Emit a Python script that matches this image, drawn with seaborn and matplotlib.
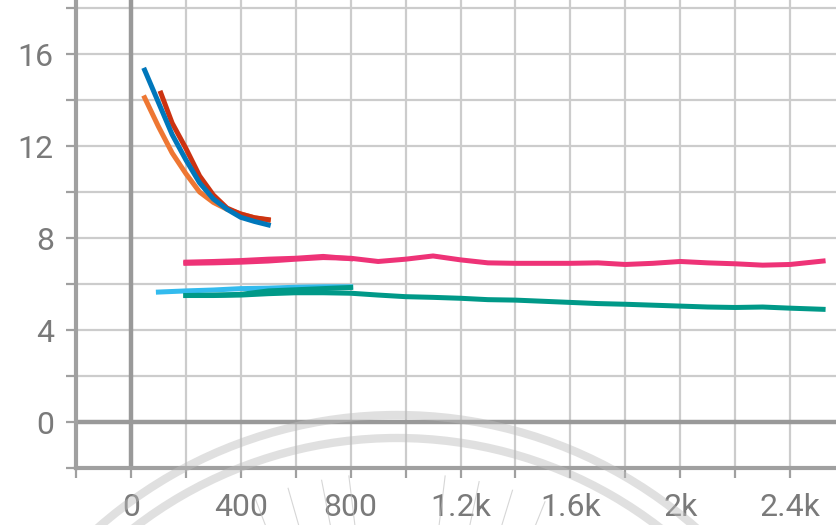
import numpy as np
import pandas as pd
import seaborn as sns
import matplotlib.pyplot as plt
from matplotlib.patches import Arc

# values
blue_x = [50, 100, 150, 200, 250, 300, 350, 400, 450, 500]
blue_y = [15.3, 13.9, 12.5, 11.4, 10.4, 9.7, 9.25, 8.9, 8.72, 8.57]

orange_x = [50, 100, 150, 200, 250, 300, 350, 400, 450, 500]
orange_y = [14.1, 12.85, 11.7, 10.8, 10.0, 9.55, 9.25, 9.05, 8.88, 8.78]

red_x = [109, 150, 200, 250, 300, 350, 400, 450, 500]
red_y = [14.3, 13.0, 11.9, 10.7, 9.87, 9.3, 9.04, 8.88, 8.8]

magenta_x = [200, 300, 400, 500, 600, 700, 800, 900, 1000, 1100, 1200, 1300,
             1400, 1500, 1600, 1700, 1800, 1900, 2000, 2100, 2200, 2300, 2400, 2520]
magenta_y = [6.9, 6.92, 6.95, 7.0, 7.08, 7.15, 7.12, 6.98, 7.08, 7.22, 7.05, 6.92,
             6.9, 6.9, 6.9, 6.92, 6.85, 6.9, 6.98, 6.92, 6.88, 6.82, 6.85, 7.0]

magenta2_x = [200, 300, 400, 500, 600, 700, 800]
magenta2_y = [6.95, 6.98, 7.02, 7.08, 7.12, 7.2, 7.1]

cyan_x = [100, 200, 300, 400, 500, 600, 700, 800]
cyan_y = [5.65, 5.7, 5.74, 5.8, 5.82, 5.86, 5.88, 5.88]

teal2_x = [200, 300, 400, 500, 600, 700, 800]
teal2_y = [5.5, 5.52, 5.55, 5.7, 5.75, 5.8, 5.85]

teal_x = [200, 300, 400, 500, 600, 700, 800, 900, 1000, 1100, 1200, 1300,
          1400, 1500, 1600, 1700, 1800, 1900, 2000, 2100, 2200, 2300, 2400, 2520]
teal_y = [5.5, 5.5, 5.52, 5.58, 5.62, 5.62, 5.6, 5.52, 5.45, 5.42, 5.38, 5.32,
          5.3, 5.25, 5.2, 5.15, 5.12, 5.08, 5.04, 5.0, 4.98, 5.0, 4.95, 4.9]

series = [
    ("magenta", magenta_x, magenta_y, "#EE3377"),
    ("magenta2", magenta2_x, magenta2_y, "#EE3377"),
    ("cyan", cyan_x, cyan_y, "#33BBEE"),
    ("teal2", teal2_x, teal2_y, "#009988"),
    ("teal", teal_x, teal_y, "#009988"),
    ("orange", orange_x, orange_y, "#EE7733"),
    ("red", red_x, red_y, "#CC3311"),
    ("blue", blue_x, blue_y, "#0077BB"),
]

x_ticks = [0, 400, 800, 1200, 1600, 2000, 2400]
x_labels = ["0", "400", "800", "1.2k", "1.6k", "2k", "2.4k"]
y_ticks = [0, 4, 8, 12, 16]

df = pd.concat([pd.DataFrame({"step": sx, "value": sy, "run": name})
                for name, sx, sy, _ in series], ignore_index=True)
palette = {name: c for name, _, _, c in series}
order = [name for name, _, _, _ in series]

plt.rcParams['font.family'] = ['Roboto', 'DejaVu Sans']

fig = plt.figure(figsize=(8.36, 5.25), dpi=100)
ax = fig.add_axes([76 / 836, 57 / 525, 1 - 76 / 836, 468 / 525])

sns.lineplot(data=df, x="step", y="value", hue="run", hue_order=order,
             palette=palette, sort=False, linewidth=3.6, legend=False,
             estimator=None, ax=ax, zorder=3)

ax.set_xlim(-200, 2567)
ax.set_ylim(-2, 18.35)

ax.set_xticks(x_ticks)
ax.set_xticklabels(x_labels)
ax.set_xticks(np.arange(-200, 2600, 200), minor=True)
ax.set_yticks(y_ticks)
ax.set_yticks(np.arange(-2, 19, 2), minor=True)

ax.grid(which="both", color="#cccccc", linewidth=1.6, zorder=0)
ax.set_axisbelow(True)
ax.axhline(0, color="#999999", linewidth=3.2, zorder=2)
ax.axvline(0, color="#999999", linewidth=3.2, zorder=2)

for s in ["top", "right"]:
    ax.spines[s].set_visible(False)
for s in ["left", "bottom"]:
    ax.spines[s].set_color("#a0a0a0")
    ax.spines[s].set_linewidth(3)

ax.tick_params(which="both", length=7, width=1.6, color="#a0a0a0",
               labelsize=23, labelcolor="#7a7a7a")
ax.tick_params(axis="y", pad=9)
ax.tick_params(axis="x", pad=11)
ax.tick_params(which="minor", labelleft=False, labelbottom=False)
ax.set_xlabel("")
ax.set_ylabel("")

# faint circular watermark at the bottom
cx, cy = 3.97, -3.43
for r in (4.53, 4.30):
    fig.add_artist(Arc((cx, cy), 2 * r, 2 * r, theta1=30, theta2=150,
                       transform=fig.dpi_scale_trans, color="#bbbbbb",
                       linewidth=6, alpha=0.45, zorder=5))
for ang in [68, 73, 78, 83, 97, 101, 106, 111]:
    a = np.radians(ang)
    r0, r1 = 3.42, 3.95
    fig.add_artist(plt.Line2D([cx + r0 * np.cos(a), cx + r1 * np.cos(a)],
                              [cy + r0 * np.sin(a), cy + r1 * np.sin(a)],
                              transform=fig.dpi_scale_trans, color="#bbbbbb",
                              linewidth=0.8, alpha=0.6, zorder=5))

fig.savefig("out.png", dpi=100)
